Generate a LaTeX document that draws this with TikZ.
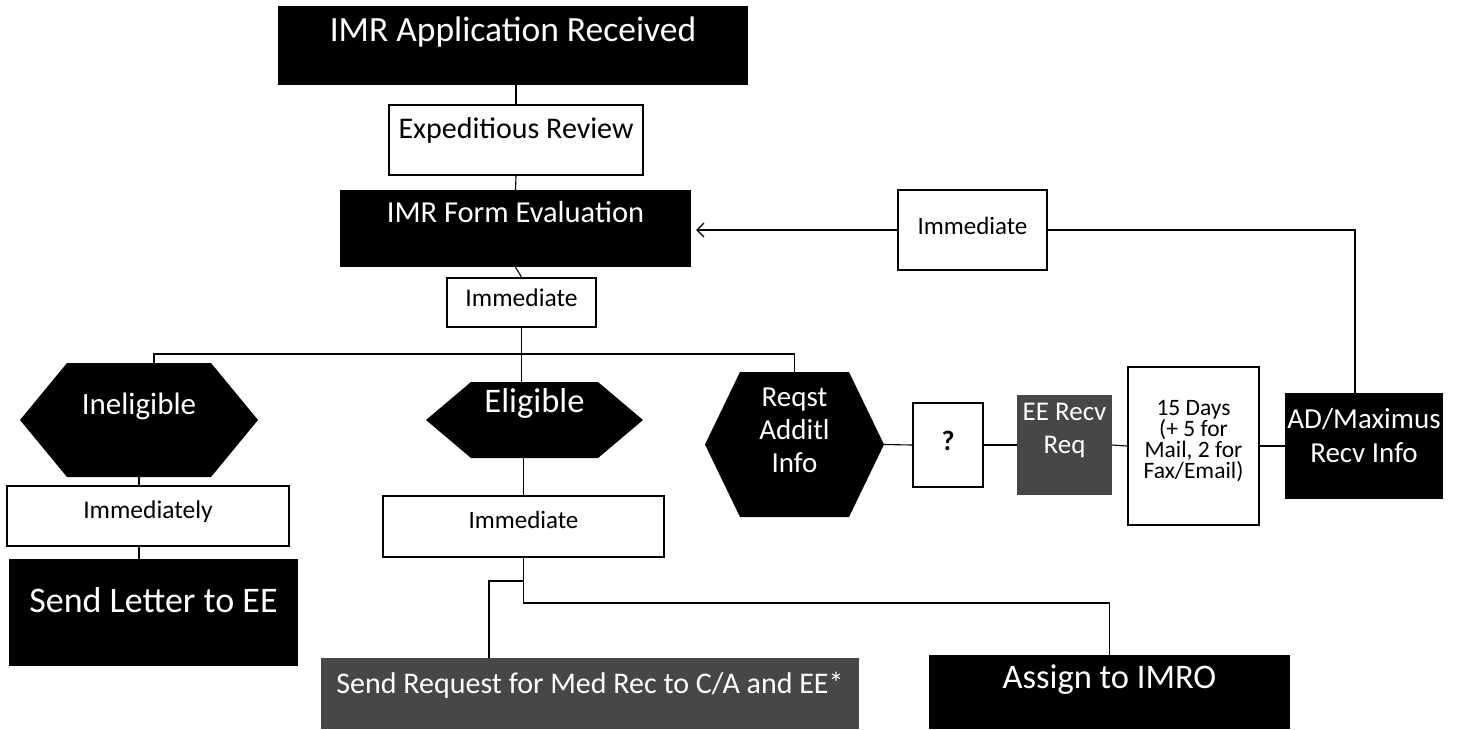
\documentclass[tikz,border=0pt]{standalone}
\usepackage{fontspec}
\setmainfont{Carlito}
\usepackage{tikz}
\usetikzlibrary{arrows.meta}

\begin{document}
\begin{tikzpicture}[x=1pt,y=-1pt,
  darkbox/.style={fill=black, text=white, inner sep=0pt, anchor=base},
  greybox/.style={fill=black!72, text=white, inner sep=0pt, anchor=base},
  whitebox/.style={draw=black, line width=2pt, fill=white, inner sep=0pt, anchor=base},
  hexa/.style={text=white, inner sep=0pt, anchor=base,
    path picture={\fill[black] (path picture bounding box.west)
      -- ([xshift=#1]path picture bounding box.north west)
      -- ([xshift=-#1]path picture bounding box.north east)
      -- (path picture bounding box.east)
      -- ([xshift=-#1]path picture bounding box.south east)
      -- ([xshift=#1]path picture bounding box.south west) -- cycle;}},
  conn/.style={line width=1.1pt}]
\useasboundingbox (0,0) rectangle (1458,729);

\node[darkbox, minimum width=470pt, text height=35pt, text depth=44pt, font=\fontsize{35.5}{42}\selectfont] (app) at (513,41) {IMR Application Received};
\node[whitebox, minimum width=254pt, text height=33pt, text depth=37pt, font=\fontsize{30}{36}\selectfont] (exped) at (516,138) {Expeditious Review};
\node[darkbox, minimum width=351pt, text height=32pt, text depth=45pt, font=\fontsize{30.5}{36}\selectfont] (form) at (515.5,222) {IMR Form Evaluation};
\node[whitebox, minimum width=149pt, text height=28pt, text depth=21pt, font=\fontsize{25.5}{30}\selectfont] (imm1) at (521.5,306) {Immediate};
\node[whitebox, minimum width=149pt, text height=44pt, text depth=36pt, font=\fontsize{25}{30}\selectfont] (imm2) at (972.5,234) {Immediate};

\node[hexa=47pt, minimum width=238pt, text height=51pt, text depth=63pt, font=\fontsize{31}{37}\selectfont] (inel) at (139,414) {Ineligible};
\node[hexa=45pt, minimum width=217pt, text height=30pt, text depth=46pt, font=\fontsize{34.5}{40}\selectfont] (elig) at (534.5,412) {Eligible};
\node[hexa=35pt, minimum width=179pt, text width=175pt, align=flush center, text height=34pt, text depth=111pt, font=\fontsize{29}{33}\selectfont] (reqst) at (794.5,406) {Reqst\\Additl\\Info};
\node[whitebox, minimum width=70pt, text height=47pt, text depth=37pt, font=\fontsize{28}{34}\selectfont\bfseries] (q) at (948,450) {?};
\node[greybox, minimum width=95pt, text width=95pt, align=flush center, text height=25pt, text depth=75pt, font=\fontsize{27}{33}\selectfont] (eerecv) at (1064.5,420) {EE Recv\\Req};
\node[whitebox, minimum width=131pt, text width=127pt, align=flush center, text height=48pt, text depth=110pt, font=\fontsize{23.5}{21}\selectfont] (days) at (1193.5,415) {15 Days\\(+ 5 for\\Mail, 2 for\\Fax/Email)};
\node[darkbox, minimum width=158pt, text width=156pt, align=flush center, text height=35pt, text depth=71pt, font=\fontsize{29}{34}\selectfont] (admax) at (1364,428) {AD/Maximus\\Recv Info};

\node[whitebox, minimum width=282pt, text height=32pt, text depth=28pt, font=\fontsize{25.5}{30}\selectfont] (immly) at (148,518) {Immediately};
\node[whitebox, minimum width=281pt, text height=32pt, text depth=29pt, font=\fontsize{25}{30}\selectfont] (imm3) at (523.5,528) {Immediate};
\node[darkbox, minimum width=289pt, text height=53pt, text depth=54pt, font=\fontsize{36}{43}\selectfont] (letter) at (153.5,612) {Send Letter to EE};
\node[greybox, minimum width=538pt, text height=35pt, text depth=36pt, font=\fontsize{30}{36}\selectfont] (sendreq) at (590,693) {Send Request for Med Rec to C/A and EE*};
\node[darkbox, minimum width=361pt, text height=33pt, text depth=41pt, font=\fontsize{34.5}{40}\selectfont] (assign) at (1109.5,688) {Assign to IMRO};

\coordinate (split) at (522,354);
\coordinate (tap) at (523.5,581);
\coordinate (fork) at (523.5,603);

\draw[conn] (exped.north) -- (exped.north |- app.south);
\draw[conn] (exped.south) -- (form.north);
\draw[conn] (form.south) -- (imm1.north);
\draw[conn] (imm1.south) -- (imm1.south |- elig.north);
\draw[conn] ([xshift=15pt]inel.north) |- (split) -| (reqst.north);
\draw[conn] (inel.south) -- (inel.south |- immly.north);
\draw[conn] (inel.south |- immly.south) -- (inel.south |- letter.north);
\draw[conn] (imm3.north) -- (imm3.north |- elig.south);
\draw[conn] (imm3.south) -- (fork) -| (assign.north);
\draw[conn] (tap) -| ([xshift=-101pt]sendreq.north);
\draw[conn] (reqst.east) -- (q.west);
\draw[conn] (q.east) -- (eerecv.west);
\draw[conn] (eerecv.east) -- (days.west);
\draw[conn] (days.east) -- (admax.west);
\draw[conn] ([xshift=-9pt]admax.north) |- (imm2.east);
\draw[conn, -{Straight Barb[length=7pt,width=14pt]}, shorten >=5pt] (imm2.west) -- (imm2.west -| form.east);
\end{tikzpicture}
\end{document}
